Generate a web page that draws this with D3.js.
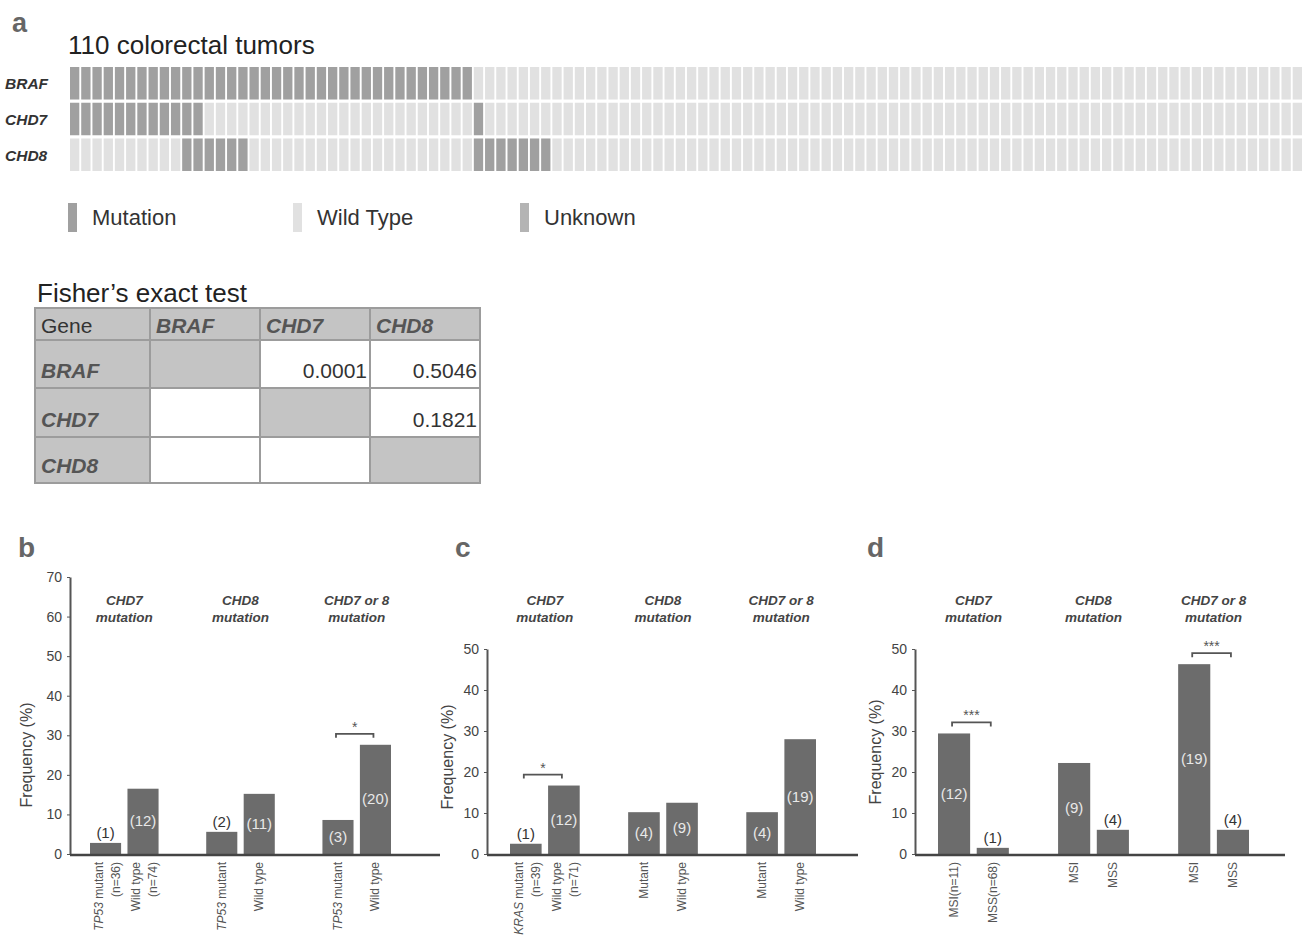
<!DOCTYPE html>
<html lang="en">
<head>
<meta charset="utf-8">
<title>CHD7 / CHD8 mutations in colorectal tumors</title>
<script src="https://d3js.org/d3.v7.min.js"></script>
<style>
  body { margin: 0; background: #fff; }
  text { font-family: "Liberation Sans", Arial, sans-serif; }
</style>
</head>
<body>
<script>
var W = 1310, H = 935;

// ---- panel a: mutation map ----
var genes = ["BRAF", "CHD7", "CHD8"];
var nTumors = 110;
// runs of [status, count] from left to right (M = mutation, W = wild type)
var brafRuns = [["M", 36], ["W", 74]];
var chd7Runs = [["M", 12], ["W", 24], ["M", 1], ["W", 73]];
var chd8Runs = [["W", 10], ["M", 6], ["W", 20], ["M", 7], ["W", 67]];
var legendKeys = ["M", "W", "U"];
var legendLabels = ["Mutation", "Wild Type", "Unknown"];

// Fisher's exact test table
var fisherGenes = ["BRAF", "CHD7", "CHD8"];
var fisherP = [
  ["", "0.0001", "0.5046"],
  ["", "", "0.1821"],
  ["", "", ""]
];

// ---- panels b, c, d ----
var groupTitles = [["CHD7", "mutation"], ["CHD8", "mutation"], ["CHD7 or 8", "mutation"]];

var bValues = [2.8, 16.5, 5.6, 15.2, 8.6, 27.6];
var bCounts = ["(1)", "(12)", "(2)", "(11)", "(3)", "(20)"];
var bLabels = [["TP53 mutant", "(n=36)"], ["Wild type", "(n=74)"], ["TP53 mutant"], ["Wild type"], ["TP53 mutant"], ["Wild type"]];
var bSig = [{group: 2, label: "*"}];

var cValues = [2.5, 16.7, 10.2, 12.5, 10.2, 28.0];
var cCounts = ["(1)", "(12)", "(4)", "(9)", "(4)", "(19)"];
var cLabels = [["KRAS mutant", "(n=39)"], ["Wild type", "(n=71)"], ["Mutant"], ["Wild type"], ["Mutant"], ["Wild type"]];
var cSig = [{group: 0, label: "*"}];

var dValues = [29.4, 1.5, 22.2, 5.9, 46.3, 5.9];
var dCounts = ["(12)", "(1)", "(9)", "(4)", "(19)", "(4)"];
var dLabels = [["MSI(n=11)"], ["MSS(n=68)"], ["MSI"], ["MSS"], ["MSI"], ["MSS"]];
var dSig = [{group: 0, label: "***"}, {group: 2, label: "***"}];

var italicWords = ["TP53", "KRAS"];

var svg = d3.select("body").append("svg")
  .attr("width", W).attr("height", H);

// ===== panel a =====
svg.append("text").attr("x", 12).attr("y", 32)
  .attr("font-size", 27).attr("font-weight", "bold").attr("fill", "#666").text("a");
svg.append("text").attr("x", 68).attr("y", 54)
  .attr("font-size", 26).attr("fill", "#222").text("110 colorectal tumors");

function expandRuns(runs) {
  var out = [];
  runs.forEach(function(r) { for (var i = 0; i < r[1]; i++) out.push(r[0]); });
  return out;
}
var statusByGene = { BRAF: expandRuns(brafRuns), CHD7: expandRuns(chd7Runs), CHD8: expandRuns(chd8Runs) };

var cells = [];
genes.forEach(function(g) {
  statusByGene[g].forEach(function(s, i) { cells.push({gene: g, i: i, s: s}); });
});

var hx = d3.scaleBand().domain(d3.range(nTumors)).range([70, 1302]).paddingInner(0.17);
var hy = d3.scaleBand().domain(genes).range([67, 171]).paddingInner(0.09);
var statusColor = d3.scaleOrdinal().domain(["M", "W", "U"]).range(["#a0a0a0", "#e1e1e1", "#b4b4b4"]);

svg.append("g").selectAll("rect").data(cells).enter().append("rect")
  .attr("x", function(d) { return hx(d.i); })
  .attr("y", function(d) { return hy(d.gene); })
  .attr("width", hx.bandwidth())
  .attr("height", hy.bandwidth())
  .attr("fill", function(d) { return statusColor(d.s); });

svg.append("g").selectAll("text").data(genes).enter().append("text")
  .attr("x", 5)
  .attr("y", function(d) { return hy(d) + hy.bandwidth() / 2 + 6; })
  .attr("font-size", 15.5).attr("font-weight", "bold").attr("font-style", "italic")
  .attr("fill", "#333").text(function(d) { return d; });

// legend
var legendX = [68, 293, 520];
var lg = svg.append("g").selectAll("g").data(legendKeys).enter().append("g")
  .attr("transform", function(d, i) { return "translate(" + legendX[i] + ",0)"; });
lg.append("rect").attr("x", 0).attr("y", 203).attr("width", 9).attr("height", 29)
  .attr("fill", function(d) { return statusColor(d); });
lg.append("text").attr("x", 24).attr("y", 225).attr("font-size", 22).attr("fill", "#333")
  .text(function(d, i) { return legendLabels[i]; });

// Fisher table
svg.append("text").attr("x", 37).attr("y", 302)
  .attr("font-size", 26).attr("fill", "#222").text("Fisher\u2019s exact test");

var colX = [35, 150, 260, 370, 480];
var rowY = [308, 340, 388, 437, 483];
var tableCells = [];
tableCells.push({r: 0, c: 0, fill: "#c4c4c4", text: "Gene", head: false});
fisherGenes.forEach(function(g, j) {
  tableCells.push({r: 0, c: j + 1, fill: "#c4c4c4", text: g, head: true});
});
fisherGenes.forEach(function(g, i) {
  tableCells.push({r: i + 1, c: 0, fill: "#c4c4c4", text: g, head: true});
  fisherGenes.forEach(function(h, j) {
    tableCells.push({r: i + 1, c: j + 1, fill: i === j ? "#c4c4c4" : "#ffffff", text: fisherP[i][j], value: true});
  });
});
var tc = svg.append("g").selectAll("g").data(tableCells).enter().append("g");
tc.append("rect")
  .attr("x", function(d) { return colX[d.c]; })
  .attr("y", function(d) { return rowY[d.r]; })
  .attr("width", function(d) { return colX[d.c + 1] - colX[d.c]; })
  .attr("height", function(d) { return rowY[d.r + 1] - rowY[d.r]; })
  .attr("fill", function(d) { return d.fill; })
  .attr("stroke", "#9c9c9c").attr("stroke-width", 2);
tc.append("text")
  .attr("x", function(d) { return d.value ? colX[d.c + 1] - 3 : colX[d.c] + 6; })
  .attr("y", function(d) { return d.r === 0 ? rowY[1] - 7 : rowY[d.r + 1] - 10; })
  .attr("text-anchor", function(d) { return d.value ? "end" : "start"; })
  .attr("font-size", 21)
  .attr("font-weight", function(d) { return d.head ? "bold" : "normal"; })
  .attr("font-style", function(d) { return d.head ? "italic" : "normal"; })
  .attr("fill", function(d) { return d.head ? "#555" : "#333"; })
  .text(function(d) { return d.text; });

// ===== panels b, c, d =====
var panels = [
  {letter: "b", lx: 18, values: bValues, counts: bCounts, labels: bLabels, sig: bSig,
   axisX: 70, yMax: 70, yTop: 577, xStart: 90, xEnd: 391, axisEnd: 440, ylabX: 32, ylabY: 755},
  {letter: "c", lx: 455, values: cValues, counts: cCounts, labels: cLabels, sig: cSig,
   axisX: 487, yMax: 50, yTop: 649, xStart: 510, xEnd: 816, axisEnd: 858, ylabX: 453, ylabY: 757},
  {letter: "d", lx: 867, values: dValues, counts: dCounts, labels: dLabels, sig: dSig,
   axisX: 915, yMax: 50, yTop: 649, xStart: 938, xEnd: 1249, axisEnd: 1285, ylabX: 881, ylabY: 752}
];
var y0 = 854;
var barColor = "#6c6c6c";

panels.forEach(function(p) {
  var g = svg.append("g");
  g.append("text").attr("x", p.lx).attr("y", 557)
    .attr("font-size", 28).attr("font-weight", "bold").attr("fill", "#666").text(p.letter);

  var y = d3.scaleLinear().domain([0, p.yMax]).range([y0, p.yTop]);
  var gx = d3.scaleBand().domain([0, 1, 2]).range([p.xStart, p.xEnd]).paddingInner(0.41);
  var bx = d3.scaleBand().domain([0, 1]).range([0, gx.bandwidth()]).paddingInner(0.17);

  var bars = p.values.map(function(v, i) {
    return {v: v, group: Math.floor(i / 2), k: i % 2, count: p.counts[i], label: p.labels[i]};
  });
  function bxPos(d) { return gx(d.group) + bx(d.k); }

  // y axis
  var ax = g.append("g").attr("transform", "translate(" + p.axisX + ",0)")
    .call(d3.axisLeft(y).tickValues(d3.range(0, p.yMax + 1, 10)).tickSize(3).tickSizeOuter(0).tickPadding(5));
  ax.select(".domain").attr("stroke", "#555").attr("stroke-width", 2);
  ax.selectAll(".tick line").attr("stroke", "#555");
  ax.selectAll(".tick text").attr("font-size", 14).attr("fill", "#444")
    .attr("font-family", "Liberation Sans, Arial, sans-serif");

  g.append("text")
    .attr("transform", "translate(" + p.ylabX + "," + p.ylabY + ") rotate(-90)")
    .attr("text-anchor", "middle").attr("font-size", 16).attr("fill", "#444")
    .text("Frequency (%)");

  // group titles
  var gt = g.append("g").selectAll("text").data(groupTitles).enter().append("text")
    .attr("x", function(d, i) { return gx(i) + gx.bandwidth() / 2; })
    .attr("text-anchor", "middle").attr("font-size", 13.5)
    .attr("font-weight", "bold").attr("font-style", "italic").attr("fill", "#444");
  gt.append("tspan").attr("y", 605).text(function(d) { return d[0]; });
  gt.append("tspan").attr("y", 622)
    .attr("x", function(d, i) { return gx(i) + gx.bandwidth() / 2; })
    .text(function(d) { return d[1]; });

  // bars
  g.append("g").selectAll("rect").data(bars).enter().append("rect")
    .attr("x", bxPos)
    .attr("y", function(d) { return y(d.v); })
    .attr("width", bx.bandwidth())
    .attr("height", function(d) { return y0 - y(d.v); })
    .attr("fill", barColor);

  // x axis line
  g.append("line").attr("x1", p.axisX).attr("x2", p.axisEnd)
    .attr("y1", y0 + 1).attr("y2", y0 + 1)
    .attr("stroke", "#444").attr("stroke-width", 2.5);

  // counts
  g.append("g").selectAll("text").data(bars).enter().append("text")
    .attr("x", function(d) { return bxPos(d) + bx.bandwidth() / 2; })
    .attr("y", function(d) {
      var h = y0 - y(d.v);
      return h > 28 ? (y(d.v) + y0) / 2 + 5 : y(d.v) - 5;
    })
    .attr("text-anchor", "middle").attr("font-size", 15)
    .attr("fill", function(d) { return (y0 - y(d.v)) > 28 ? "#e8e8e8" : "#333"; })
    .text(function(d) { return d.count; });

  // x labels (rotated)
  var xl = g.append("g").selectAll("text").data(bars).enter().append("text")
    .attr("transform", function(d) {
      return "translate(" + (bxPos(d) + bx.bandwidth() / 2) + "," + (y0 + 8) + ") rotate(-90)";
    })
    .attr("text-anchor", "end").attr("font-size", 12).attr("fill", "#555");
  xl.each(function(d) {
    var t = d3.select(this);
    var n = d.label.length;
    d.label.forEach(function(line, li) {
      var dyv = n === 1 ? 4 : (li === 0 ? -3 : 14);
      var words = line.split(" ");
      words.forEach(function(w, wi) {
        var ts = t.append("tspan").text((wi > 0 ? " " : "") + w)
          .attr("font-style", italicWords.indexOf(w) >= 0 ? "italic" : "normal");
        if (wi === 0) ts.attr("x", 0).attr("y", dyv);
      });
    });
  });

  // significance brackets
  p.sig.forEach(function(s) {
    var b1 = bars[s.group * 2], b2 = bars[s.group * 2 + 1];
    var xa = bxPos(b1) + bx.bandwidth() / 2 - 2;
    var xb = bxPos(b2) + bx.bandwidth() / 2 - 2;
    var yb = y(Math.max(b1.v, b2.v)) - 11;
    g.append("path")
      .attr("d", "M" + xa + "," + (yb + 4) + "V" + yb + "H" + xb + "V" + (yb + 4))
      .attr("fill", "none").attr("stroke", "#555").attr("stroke-width", 1.8);
    g.append("text").attr("x", (xa + xb) / 2).attr("y", yb - 2)
      .attr("text-anchor", "middle").attr("font-size", 14).attr("fill", "#555")
      .text(s.label);
  });
});
</script>
</body>
</html>
